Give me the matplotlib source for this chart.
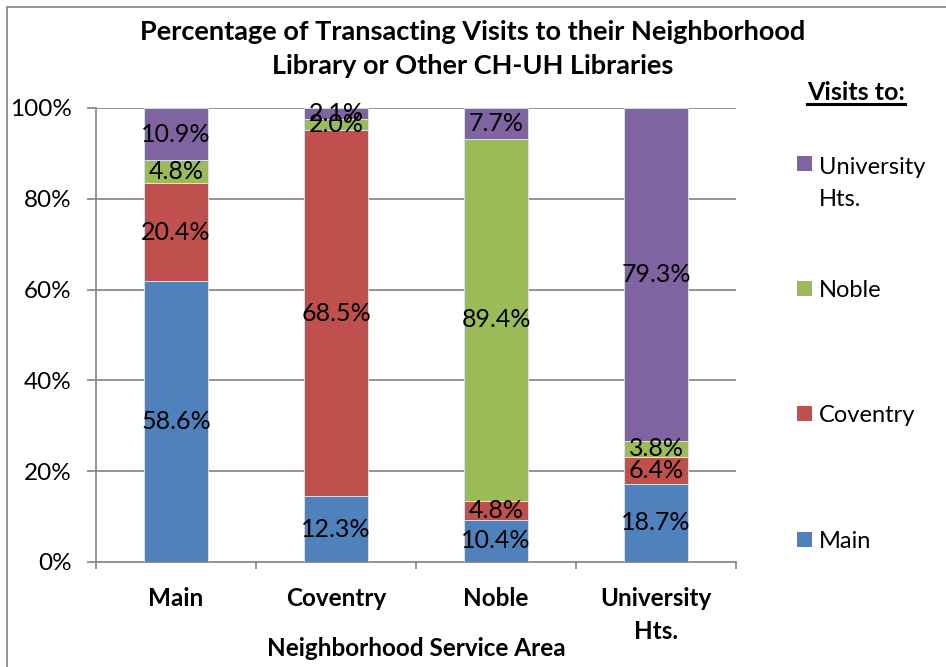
import matplotlib
matplotlib.use("Agg")
import matplotlib.pyplot as plt
import numpy as np
from matplotlib.patches import Rectangle
from matplotlib.lines import Line2D

plt.rcParams['font.family'] = ['Lato', 'DejaVu Sans']

categories = ["Main", "Coventry", "Noble", "University\nHts."]
series_names = ["Main", "Coventry", "Noble", "University\nHts."]
main_vals = [58.6, 12.3, 10.4, 18.7]
coventry_vals = [20.4, 68.5, 4.8, 6.4]
noble_vals = [4.8, 2.0, 89.4, 3.8]
uh_vals = [10.9, 2.1, 7.7, 79.3]
colors = ["#4F81BD", "#C0504D", "#9BBB59", "#8064A2"]
yticks = [0, 20, 40, 60, 80, 100]
ytick_labels = ["0%", "20%", "40%", "60%", "80%", "100%"]
title = "Percentage of Transacting Visits to their Neighborhood\nLibrary or Other CH-UH Libraries"
xlabel = "Neighborhood Service Area"
legend_title = "Visits to:"

W, H = 946, 667
fig = plt.figure(figsize=(W / 100, H / 100), dpi=100)
ax = fig.add_axes([96 / W, (H - 562) / H, (736 - 96) / W, 454 / H])

data = np.array([main_vals, coventry_vals, noble_vals, uh_vals])
totals = data.sum(axis=0)
pct = data / totals * 100
x = np.arange(len(categories))
bottom = np.zeros(len(categories))
for i in range(len(series_names)):
    ax.bar(x, pct[i], 0.4, bottom=bottom, color=colors[i],
           edgecolor="#dfe6f0", linewidth=0.6, zorder=3)
    for j in range(len(categories)):
        ax.text(x[j], bottom[j] + pct[i][j] / 2, f"{data[i][j]:.1f}%",
                ha="center", va="center", fontsize=18, color="black", zorder=4)
    bottom += pct[i]

ax.set_xlim(-0.5, 3.5)
ax.set_ylim(0, 100)
ax.set_yticks(yticks)
ax.set_yticklabels(ytick_labels, fontsize=17.5)
ax.yaxis.grid(True, color="#8c8c8c", linewidth=1.3, zorder=0)
ax.set_axisbelow(True)
ax.tick_params(axis="y", length=6.5, width=1.3, color="#8c8c8c", pad=11)

ax.set_xticks(x)
ax.set_xticklabels(categories, fontsize=17.5, fontweight="bold", linespacing=1.55)
ax.set_xticks(np.arange(-0.5, 4.0, 1.0), minor=True)
ax.tick_params(axis="x", which="major", length=0, pad=18)
ax.tick_params(axis="x", which="minor", length=5, width=1.3, color="#8c8c8c")
ax.set_xlabel(xlabel, fontsize=17.5, fontweight="bold", va="center")
ax.xaxis.set_label_coords(0.5, (562 - 649) / 454)

for s in ["top", "right"]:
    ax.spines[s].set_visible(False)
for s in ["left", "bottom"]:
    ax.spines[s].set_color("#8c8c8c")
    ax.spines[s].set_linewidth(1.3)

fig.text(473 / W, 1 - 49 / H, title, ha="center", va="center", fontsize=19.5,
         fontweight="bold", linespacing=1.55)

# legend (manual layout, order: top = last series)
legend_y = [539, 413, 289, 163]  # pixel centres of first line, per series
line_step = 34
for i in range(len(series_names)):
    yc = legend_y[i]
    nextra = series_names[i].count("\n")
    fig.add_artist(Rectangle((797 / W, 1 - (yc + 7.5) / H), 15 / W, 15 / H,
                             transform=fig.transFigure, facecolor=colors[i],
                             edgecolor="none"))
    fig.text(819 / W, 1 - (yc + 8.5 + line_step * nextra) / H, series_names[i],
             ha="left", va="baseline", fontsize=17, linespacing=1.64)

fig.text(856 / W, 1 - 92 / H, legend_title, ha="center", va="center",
         fontsize=18, fontweight="bold")
fig.add_artist(Line2D([807 / W, 905 / W], [1 - 104 / H, 1 - 104 / H],
                      color="black", linewidth=2.2, transform=fig.transFigure))

fig.add_artist(Rectangle((7 / W, -0.1), 1.2, 1.1 - 7 / H, transform=fig.transFigure,
                         fill=False, edgecolor="#8c8c8c", linewidth=1.3))

fig.savefig("out.png", dpi=100)
